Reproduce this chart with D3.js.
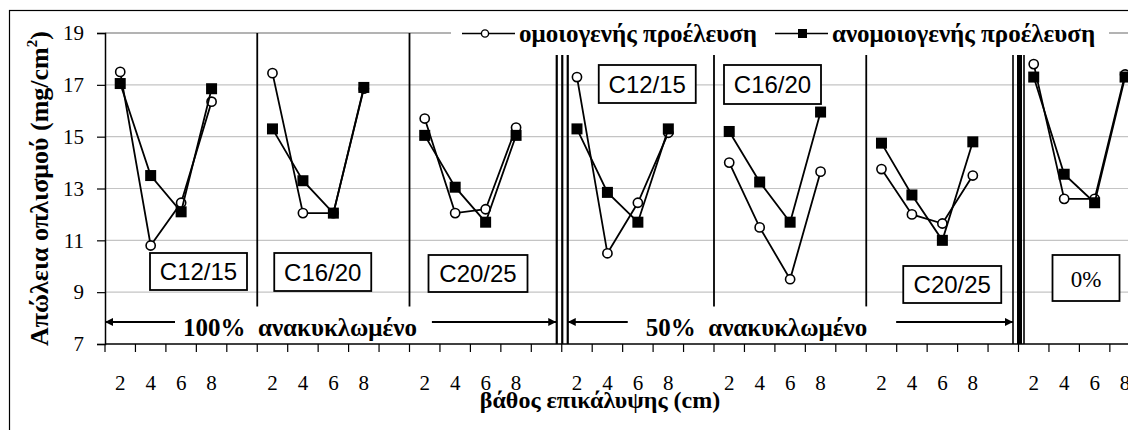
<!DOCTYPE html>
<html>
<head>
<meta charset="utf-8">
<script src="https://cdn.jsdelivr.net/npm/d3@7"></script>
<style>
  body { margin: 0; background: #fff; }
</style>
</head>
<body>
<div id="chart"></div>
<script>
// depth categories inside each panel (5th slot is left empty in the original)
const depths = ["2", "4", "6", "8"];
const panels = ["100-C12/15", "100-C16/20", "100-C20/25", "50-C12/15", "50-C16/20", "50-C20/25", "0"];
const panelLabels = ["C12/15", "C16/20", "C20/25", "C12/15", "C16/20", "C20/25", "0%"];

// ομοιογενής προέλευση (open circles)
const homogeneous = [
  [17.5, 10.8, 12.45, 16.35],
  [17.45, 12.05, 12.05, 16.85],
  [15.7, 12.05, 12.2, 15.35],
  [17.3, 10.5, 12.45, 15.15],
  [14.0, 11.5, 9.5, 13.65],
  [13.75, 12.0, 11.65, 13.5],
  [17.8, 12.6, 12.6, 17.4],
];
// ανομοιογενής προέλευση (filled squares)
const heterogeneous = [
  [17.05, 13.5, 12.1, 16.85],
  [15.3, 13.3, 12.05, 16.9],
  [15.05, 13.05, 11.7, 15.05],
  [15.3, 12.85, 11.7, 15.3],
  [15.2, 13.25, 11.7, 15.95],
  [14.75, 12.75, 11.0, 14.8],
  [17.3, 13.55, 12.45, 17.3],
];
const yTicks = [7, 9, 11, 13, 15, 17, 19];
const groupLabels = ["100%  ανακυκλωμένο", "50%  ανακυκλωμένο"];
const groupPanels = [[0, 2], [3, 5]];
const seriesNames = ["ομοιογενής προέλευση", "ανομοιογενής προέλευση"];

const width = 1128;
const height = 430;
const plot = { left: 105, top: 33, bottom: 344 };
const bandW = 30.45;
const legendBottom = 55;
const SERIF = '"Liberation Serif", "Times New Roman", "DejaVu Serif", serif';
const SANS = '"Liberation Sans", Arial, sans-serif';

// label box placement, px relative to panel start
const labelLayout = [
  { dx: 45, top: 253, w: 97, h: 37, font: SANS },
  { dx: 17, top: 253, w: 97, h: 38, font: SANS },
  { dx: 19, top: 255, w: 99, h: 37, font: SANS },
  { dx: 37, top: 65, w: 97, h: 38, font: SANS },
  { dx: 10, top: 65, w: 97, h: 39, font: SANS },
  { dx: 37, top: 266, w: 98, h: 37, font: SANS },
  { dx: 34, top: 255, w: 67, h: 46, font: SERIF },
];

const slots = panels.flatMap((p) => [...depths, "gap"].map((d) => `${p}|${d}`));

const x = d3
  .scaleBand()
  .domain(slots)
  .range([plot.left, plot.left + slots.length * bandW])
  .padding(0);

const y = d3.scaleLinear().domain([7, 19]).range([plot.bottom, plot.top]);

const svg = d3
  .select("#chart")
  .append("svg")
  .attr("width", width)
  .attr("height", height)
  .style("display", "block");

svg.append("rect").attr("width", width).attr("height", height).attr("fill", "#fff");

// outer chart border (cut at right and bottom in the original)
svg
  .append("rect")
  .attr("x", 9.5)
  .attr("y", 10.5)
  .attr("width", width + 50)
  .attr("height", height + 50)
  .attr("fill", "none")
  .attr("stroke", "#000")
  .attr("stroke-width", 1.2);

const panelStart = (i) => x(`${panels[i]}|2`);
const panelEnd = (i) => x(`${panels[i]}|gap`) + x.bandwidth();
const cx = (i, d) => x(`${panels[i]}|${d}`) + x.bandwidth() / 2;

// gridlines
svg
  .append("g")
  .selectAll("line")
  .data(yTicks.filter((t) => t > 7))
  .join("line")
  .attr("x1", plot.left)
  .attr("x2", width + 50)
  .attr("y1", (d) => y(d))
  .attr("y2", (d) => y(d))
  .attr("stroke", (d) => (d === 19 ? "#9a9a9a" : "#c4c4c4"))
  .attr("stroke-width", (d) => (d === 19 ? 1.6 : 1.2));

// y axis
const yAxis = svg
  .append("g")
  .attr("transform", `translate(${plot.left},0)`)
  .call(d3.axisLeft(y).tickValues(yTicks).tickSize(8).tickPadding(13));
yAxis.select(".domain").attr("stroke", "#000").attr("stroke-width", 1.5);
yAxis.selectAll(".tick line").attr("stroke", "#000").attr("stroke-width", 1.2);
yAxis
  .selectAll(".tick text")
  .style("font-family", SERIF)
  .style("font-size", "21px")
  .attr("fill", "#000");

// x axis: labels centred in bands, ticks on band edges
const xAxis = svg
  .append("g")
  .attr("transform", `translate(0,${plot.bottom})`)
  .call(
    d3
      .axisBottom(x)
      .tickSize(0)
      .tickPadding(31)
      .tickFormat((d) => {
        const dep = d.split("|")[1];
        return dep === "gap" ? "" : dep;
      })
  );
xAxis.select(".domain").remove();
xAxis
  .selectAll(".tick text")
  .style("font-family", SERIF)
  .style("font-size", "21px")
  .attr("fill", "#000");

svg
  .append("line")
  .attr("x1", plot.left)
  .attr("x2", width + 50)
  .attr("y1", plot.bottom)
  .attr("y2", plot.bottom)
  .attr("stroke", "#000")
  .attr("stroke-width", 1.5);

svg
  .append("g")
  .selectAll("line")
  .data(d3.range(slots.length + 1))
  .join("line")
  .attr("x1", (i) => plot.left + i * x.bandwidth())
  .attr("x2", (i) => plot.left + i * x.bandwidth())
  .attr("y1", plot.bottom)
  .attr("y2", plot.bottom + 8)
  .attr("stroke", "#000")
  .attr("stroke-width", 1.2);

// panel separators
const sepGroup = svg.append("g");
[0, 1, 3, 4].forEach((i) => {
  sepGroup
    .append("line")
    .attr("x1", panelEnd(i))
    .attr("x2", panelEnd(i))
    .attr("y1", i < 2 ? y(19) : legendBottom)
    .attr("y2", y(8.45))
    .attr("stroke", "#000")
    .attr("stroke-width", 1.8);
});
const doubleLines = [
  { panel: 2, offs: [-5, 0.5, 6], widths: [2.2, 2.2, 2.2] },
  { panel: 5, offs: [-5.5, 1, 5.5], widths: [1.6, 5, 1.6] },
];
doubleLines.forEach((dl) => {
  dl.offs.forEach((o, k) => {
    sepGroup
      .append("line")
      .attr("x1", panelEnd(dl.panel) + o)
      .attr("x2", panelEnd(dl.panel) + o)
      .attr("y1", legendBottom)
      .attr("y2", plot.bottom)
      .attr("stroke", "#000")
      .attr("stroke-width", dl.widths[k]);
  });
});

// group arrows
const defs = svg.append("defs");
defs
  .append("marker")
  .attr("id", "arrow")
  .attr("viewBox", "0 0 10 10")
  .attr("refX", 10)
  .attr("refY", 5)
  .attr("markerWidth", 4.5)
  .attr("markerHeight", 4)
  .attr("markerUnits", "strokeWidth")
  .attr("orient", "auto-start-reverse")
  .append("path")
  .attr("d", "M0,0L10,5L0,10Z")
  .attr("fill", "#000");

const arrowY = y(7.85);
groupPanels.forEach(([a, b], gi) => {
  const x0 = gi === 0 ? panelStart(a) : panelStart(a) + 6;
  const x1 = panelEnd(b) - 5.5;
  svg
    .append("line")
    .attr("x1", x0)
    .attr("x2", x1)
    .attr("y1", arrowY)
    .attr("y2", arrowY)
    .attr("stroke", "#000")
    .attr("stroke-width", 2)
    .attr("marker-start", "url(#arrow)")
    .attr("marker-end", "url(#arrow)");
  const t = svg
    .append("text")
    .attr("x", x0 + 78)
    .attr("y", arrowY + 14)
    .style("font-family", SERIF)
    .style("font-weight", "bold")
    .style("font-size", "25px")
    .style("white-space", "pre")
    .text(groupLabels[gi]);
  const bb = t.node().getBBox();
  svg
    .insert("rect", () => t.node())
    .attr("x", bb.x - (gi === 0 ? 8 : 18))
    .attr("y", arrowY - 4)
    .attr("width", bb.width + (gi === 0 ? 23 : 47))
    .attr("height", 8)
    .attr("fill", "#fff");
});

// series lines and markers
const line = d3
  .line()
  .x((d) => d[0])
  .y((d) => y(d[1]));

const drawSeries = (values, kind) => {
  const g = svg.append("g");
  values.forEach((vals, i) => {
    const pts = vals.map((v, k) => [cx(i, depths[k]), v]);
    g.append("path")
      .attr("d", line(pts))
      .attr("fill", "none")
      .attr("stroke", "#000")
      .attr("stroke-width", 1.8);
  });
  values.forEach((vals, i) => {
    const pts = vals.map((v, k) => [cx(i, depths[k]), v]);
    if (kind === "circle") {
      g.selectAll(null)
        .data(pts)
        .join("circle")
        .attr("cx", (d) => d[0])
        .attr("cy", (d) => y(d[1]))
        .attr("r", 4.6)
        .attr("fill", "#fff")
        .attr("stroke", "#000")
        .attr("stroke-width", 1.6);
    } else {
      g.selectAll(null)
        .data(pts)
        .join("rect")
        .attr("x", (d) => d[0] - 5.5)
        .attr("y", (d) => y(d[1]) - 5.5)
        .attr("width", 11)
        .attr("height", 11)
        .attr("fill", "#000");
    }
  });
};
drawSeries(homogeneous, "circle");
drawSeries(heterogeneous, "square");

// panel label boxes
panelLabels.forEach((lab, i) => {
  const L = labelLayout[i];
  const bx = panelStart(i) + L.dx;
  svg
    .append("rect")
    .attr("x", bx)
    .attr("y", L.top)
    .attr("width", L.w)
    .attr("height", L.h)
    .attr("fill", "#fff")
    .attr("stroke", "#000")
    .attr("stroke-width", 1.8);
  svg
    .append("text")
    .attr("x", bx + L.w / 2)
    .attr("y", L.top + L.h / 2 + 8.5)
    .attr("text-anchor", "middle")
    .style("font-family", L.font)
    .style("font-size", L.font === SANS ? "24px" : "23px")
    .text(lab);
});

// legend
const legend = svg.append("g");
legend
  .append("rect")
  .attr("x", 451)
  .attr("y", 20)
  .attr("width", 658)
  .attr("height", 30)
  .attr("fill", "#fff");
const legendItems = [
  { x: 462, kind: "circle" },
  { x: 775, kind: "square" },
];
legendItems.forEach((it, i) => {
  const ly = 33.5;
  legend
    .append("line")
    .attr("x1", it.x)
    .attr("x2", it.x + 53)
    .attr("y1", ly)
    .attr("y2", ly)
    .attr("stroke", "#000")
    .attr("stroke-width", 1.6);
  if (it.kind === "circle") {
    legend
      .append("circle")
      .attr("cx", it.x + 23)
      .attr("cy", ly)
      .attr("r", 3.6)
      .attr("fill", "#fff")
      .attr("stroke", "#000")
      .attr("stroke-width", 1.4);
  } else {
    legend
      .append("rect")
      .attr("x", it.x + 23)
      .attr("y", ly - 4.5)
      .attr("width", 9)
      .attr("height", 9)
      .attr("fill", "#000");
  }
  legend
    .append("text")
    .attr("x", it.x + 57)
    .attr("y", 42)
    .style("font-family", SERIF)
    .style("font-weight", "bold")
    .style("font-size", "25px")
    .text(seriesNames[i]);
});

// axis titles
const yTitle = svg
  .append("text")
  .attr("transform", `translate(48,${(plot.top + plot.bottom) / 2}) rotate(-90)`)
  .attr("text-anchor", "middle")
  .style("font-family", SERIF)
  .style("font-weight", "bold")
  .style("font-size", "26px");
yTitle.append("tspan").text("Απώλεια οπλισμού (mg/cm");
yTitle.append("tspan").style("font-size", "15px").attr("dy", -11).text("2");
yTitle.append("tspan").attr("dy", 11).text(")");

svg
  .append("text")
  .attr("x", 600)
  .attr("y", 408)
  .attr("text-anchor", "middle")
  .style("font-family", SERIF)
  .style("font-weight", "bold")
  .style("font-size", "24px")
  .text("βάθος επικάλυψης (cm)");
</script>
</body>
</html>
